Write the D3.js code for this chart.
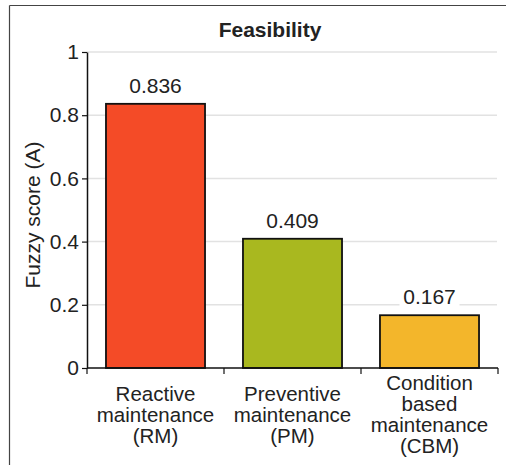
<!DOCTYPE html>
<html>
<head>
<meta charset="utf-8">
<script src="https://cdn.jsdelivr.net/npm/d3@7"></script>
<style>
  body { margin: 0; background: #fff; }
  text { font-family: "Liberation Sans", Arial, sans-serif; fill: #222; }
</style>
</head>
<body>
<div id="chart"></div>
<script>
// chart data
let categories = ['RM', 'PM', 'CBM'];
let categoryLines = [
    ['Reactive', 'maintenance', '(RM)'],
    ['Preventive', 'maintenance', '(PM)'],
    ['Condition', 'based', 'maintenance', '(CBM)']
];
let scores = [0.836, 0.409, 0.167];
let barColors = ['#f44b27', '#a9b81f', '#f3b62b'];
let yTicks = [0, 0.2, 0.4, 0.6, 0.8, 1];
let yTickLabels = ['0', '0.2', '0.4', '0.6', '0.8', '1'];

let svgWidth = 506;
let svgHeight = 465;

let plot = { left: 87, right: 498, top: 52, bottom: 368 };

let svg = d3.select('#chart')
            .append('svg')
            .attr('width', svgWidth)
            .attr('height', svgHeight);

// outer frame (only top and left edges are visible)
svg.append('line')
   .attr('x1', 9.5).attr('x2', svgWidth)
   .attr('y1', 5.5).attr('y2', 5.5)
   .attr('stroke', '#444').attr('stroke-width', 1.2);
svg.append('line')
   .attr('x1', 9.5).attr('x2', 9.5)
   .attr('y1', 5.5).attr('y2', svgHeight)
   .attr('stroke', '#444').attr('stroke-width', 1.2);

// scales
let xScale = d3.scaleBand()
               .domain(categories)
               .range([plot.left, plot.right])
               .paddingInner(0.277)
               .paddingOuter(0.1385);

let yScale = d3.scaleLinear()
               .domain([0, 1])
               .range([plot.bottom, plot.top]);

// gridlines
svg.append('g')
   .selectAll('line')
   .data(yTicks.filter(d => d > 0))
   .enter()
   .append('line')
   .attr('x1', plot.left)
   .attr('x2', plot.right - 1)
   .attr('y1', d => yScale(d))
   .attr('y2', d => yScale(d))
   .attr('stroke', '#e2e2e2')
   .attr('stroke-width', 1.5);

// y axis
let yAxis = d3.axisLeft(yScale)
              .tickValues(yTicks)
              .tickFormat((d, i) => yTickLabels[i])
              .tickSize(5)
              .tickPadding(3)
              .tickSizeOuter(0);

let yAxisGroup = svg.append('g')
                    .attr('transform', `translate(${plot.left}, 0)`)
                    .call(yAxis);
yAxisGroup.select('.domain').attr('stroke', '#111').attr('stroke-width', 1.5);
yAxisGroup.selectAll('.tick line').attr('stroke', '#111').attr('stroke-width', 1.2);
yAxisGroup.selectAll('.tick text')
          .attr('font-size', '21px')
          .attr('font-family', '"Liberation Sans", Arial, sans-serif')
          .attr('fill', '#222');

// bars
svg.append('g')
   .selectAll('rect')
   .data(scores)
   .enter()
   .append('rect')
   .attr('x', (d, i) => xScale(categories[i]))
   .attr('y', d => yScale(d))
   .attr('width', xScale.bandwidth())
   .attr('height', d => yScale(0) - yScale(d))
   .attr('fill', (d, i) => barColors[i])
   .attr('stroke', '#111')
   .attr('stroke-width', 1.8);

// x axis line with category boundary ticks
svg.append('line')
   .attr('x1', plot.left).attr('x2', plot.right)
   .attr('y1', yScale(0)).attr('y2', yScale(0))
   .attr('stroke', '#111').attr('stroke-width', 1.5);

let boundaries = categories.map(c => xScale(c) - xScale.step() * xScale.paddingInner() / 2);
boundaries.push(plot.right);
svg.append('g')
   .selectAll('line')
   .data(boundaries)
   .enter()
   .append('line')
   .attr('x1', d => d).attr('x2', d => d)
   .attr('y1', yScale(0)).attr('y2', yScale(0) + 6)
   .attr('stroke', '#111').attr('stroke-width', 1.2);

// value labels with white backing
let valueGroups = svg.append('g')
                     .selectAll('g')
                     .data(scores)
                     .enter()
                     .append('g')
                     .attr('transform', (d, i) =>
                        `translate(${xScale(categories[i]) + xScale.bandwidth() / 2}, ${yScale(d) - 11})`);
valueGroups.append('rect')
           .attr('x', -30).attr('y', -17)
           .attr('width', 60).attr('height', 22)
           .attr('fill', '#fff');
valueGroups.append('text')
           .attr('text-anchor', 'middle')
           .attr('font-size', '21px')
           .text(d => d.toFixed(3));

// category labels
let catGroups = svg.append('g')
                   .selectAll('text')
                   .data(categoryLines)
                   .enter()
                   .append('text')
                   .attr('text-anchor', 'middle')
                   .attr('font-size', '20.5px');
catGroups.each(function(lines, i) {
    let cx = xScale(categories[i]) + xScale.bandwidth() / 2;
    d3.select(this)
      .selectAll('tspan')
      .data(lines)
      .enter()
      .append('tspan')
      .attr('x', cx)
      .attr('y', (d, j) => 421.5 + (j - (lines.length - 1) / 2) * 21)
      .text(d => d);
});

// title
svg.append('text')
   .attr('x', 270)
   .attr('y', 37)
   .attr('text-anchor', 'middle')
   .attr('font-size', '21px')
   .attr('font-weight', 'bold')
   .text('Feasibility');

// y axis title
svg.append('text')
   .attr('transform', 'translate(40, 215) rotate(-90)')
   .attr('text-anchor', 'middle')
   .attr('font-size', '21px')
   .text('Fuzzy score (A)');
</script>
</body>
</html>
